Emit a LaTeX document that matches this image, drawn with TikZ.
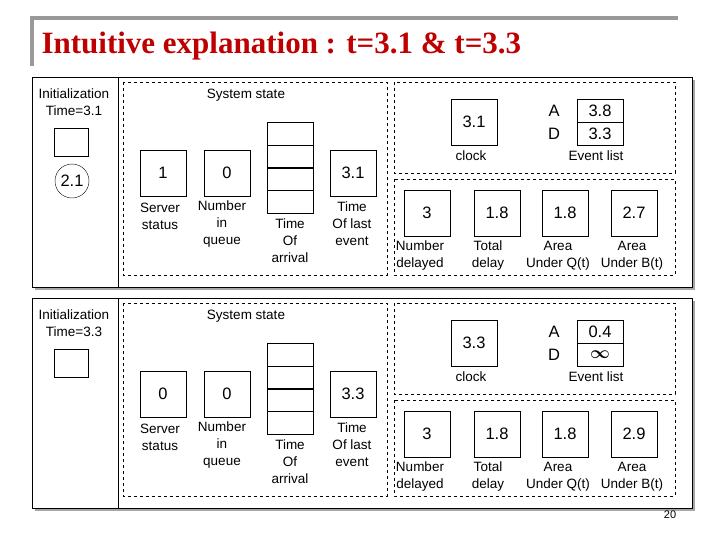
\documentclass[tikz,border=0pt]{standalone}
\usepackage{fontspec}
\setmainfont{Liberation Sans}
\newfontfamily\titlefont{Liberation Serif}
\begin{document}
\begin{tikzpicture}[x=1pt,y=-1pt,
  valbox/.style={draw,minimum width=46pt,minimum height=46pt,inner sep=0pt,font=\fontsize{16.5}{18}\selectfont},
  lbl/.style={align=center,font=\fontsize{13.5}{17}\selectfont,inner sep=0pt},
  dbox/.style={draw,dashed},
  cell/.style={draw,minimum width=46pt,minimum height=23pt,inner sep=0pt,font=\fontsize{16.5}{18}\selectfont}]
\useasboundingbox (0,0) rectangle (720,540);
\fill[gray!80] (30,16) rectangle (678,20);
\fill[gray!80] (30,16) rectangle (34,66);
\node[anchor=west,text=red!75!black,font=\titlefont\bfseries\fontsize{31}{34}\selectfont] (title) at (38,46) {Intuitive explanation : t=3.1 \& t=3.3};
\newcommand\drawpanel[8]{%
\begin{scope}[shift={(0,#1)}]
\fill[gray!70] (35,80) rectangle (695,290);
\draw[fill=white] (32,77) rectangle (692,287);
\draw (118,77) -- (118,287);
\node[lbl] (init#2) at (74,102) {Initialization\\Time=#3};
\node[draw,minimum width=34pt,minimum height=28pt,inner sep=0pt] (sq#2) at (71,142) {};
\draw[dbox] (123,82) rectangle (387,275);
\node[lbl] (ss#2) at (246,95) {System state};
\node[valbox] (srv#2) at (163,173) {#4};
\node[valbox] (nq#2) at (227,173) {0};
\draw (267,122) rectangle (313,213) (267,145) -- (313,145) (267,190) -- (313,190);
\draw[line width=1.6pt] (267,168) -- (313,168);
\node[inner sep=0pt] (stk#2) at (290,168) {};
\node[valbox] (tl#2) at (353,173) {#3};
\node[lbl] at (160,216) {Server\\status};
\node[lbl] at (222,224) {Number\\in\\queue};
\node[lbl] at (290,241) {Time\\Of\\arrival};
\node[lbl] at (352,224) {Time\\Of last\\event};
\draw[dbox] (394,82) rectangle (675,173);
\node[valbox] (clk#2) at (474,122) {#3};
\node[lbl] at (471,156) {clock};
\node[cell] (ca#2) at (600,110.5) {#5};
\node[cell] (cd#2) at (600,133.5) {#6};
\node[font=\fontsize{16.5}{18}\selectfont] at (554,110.5) {A};
\node[font=\fontsize{16.5}{18}\selectfont] at (554,133.5) {D};
\node[lbl] at (596,156) {Event list};
\draw[dbox] (394,179) rectangle (675,275);
\node[valbox] (nd#2) at (427,213) {3};
\node[valbox] (td#2) at (497,213) {1.8};
\node[valbox] (aq#2) at (565,213) {1.8};
\node[valbox] (ab#2) at (634,213) {#7};
\node[lbl] at (420,255.5) {Number\\delayed};
\node[lbl] at (488,255.5) {Total\\delay};
\node[lbl] at (558,255.5) {Area\\Under Q(t)};
\node[lbl] at (632,255.5) {Area\\Under B(t)};
#8
\end{scope}}
\drawpanel{0}{a}{3.1}{1}{3.8}{3.3}{2.7}{\node[draw,circle,minimum size=34pt,inner sep=0pt,font=\fontsize{16.5}{18}\selectfont] (circ) at (72,181) {2.1};}
\drawpanel{221}{b}{3.3}{0}{0.4}{{\boldmath$\infty$}}{2.9}{}
\node[font=\fontsize{11}{12}\selectfont] (pg) at (670,515) {20};
\end{tikzpicture}
\end{document}
